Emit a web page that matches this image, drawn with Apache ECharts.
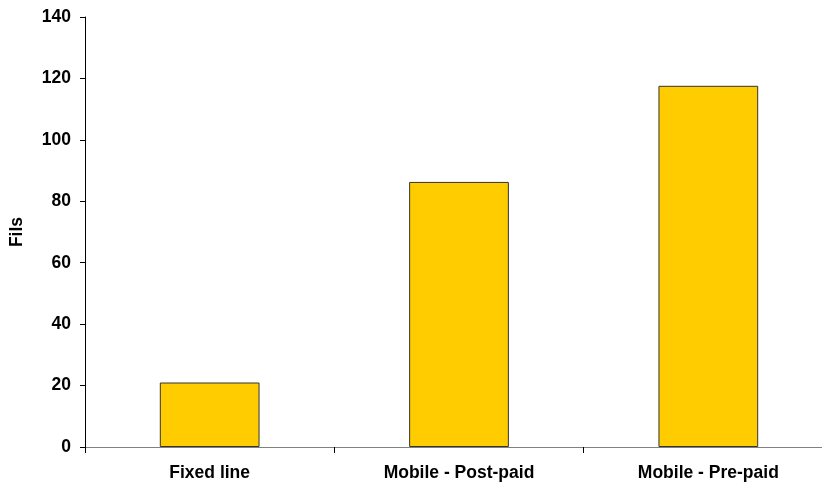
<!DOCTYPE html>
<html>
<head>
<meta charset="utf-8">
<script src="https://cdn.jsdelivr.net/npm/echarts@6/dist/echarts.min.js"></script>
<style>
  html, body { margin: 0; padding: 0; background: #ffffff; overflow: hidden; width: 822px; height: 483px; }
  /* the plot area runs a little past the right edge of the page */
  #chart { width: 834px; height: 483px; }
</style>
</head>
<body>
<div id="chart"></div>
<script>
// Average price per minute, in fils
const categories = ['Fixed line', 'Mobile - Post-paid', 'Mobile - Pre-paid'];
const priceFils = [21.0, 86.3, 117.6];
const yTicks = [0, 20, 40, 60, 80, 100, 120, 140];

const chart = echarts.init(document.getElementById('chart'), null, { renderer: 'canvas' });

const font = 'Arial, "Liberation Sans", Helvetica, sans-serif';

chart.setOption({
  animation: false,
  backgroundColor: '#ffffff',
  grid: { left: 84, right: 1, top: 17, bottom: 36, containLabel: false },
  xAxis: {
    type: 'category',
    data: categories,
    boundaryGap: true,
    axisLine: { show: true, lineStyle: { color: '#808080', width: 1 } },
    axisTick: { show: true, alignWithLabel: false, length: 6, inside: false, lineStyle: { color: '#000000' } },
    axisLabel: {
      color: '#000000', fontFamily: font, fontWeight: 'bold', fontSize: 17.5, margin: 17
    },
    splitLine: { show: false }
  },
  yAxis: {
    type: 'value',
    min: yTicks[0],
    max: yTicks[yTicks.length - 1],
    interval: 20,
    name: 'Fils',
    nameLocation: 'middle',
    nameRotate: 90,
    nameGap: 59,
    nameTextStyle: { color: '#000000', fontFamily: font, fontWeight: 'bold', fontSize: 17.5 },
    axisLine: { show: true, lineStyle: { color: '#000000', width: 1 } },
    axisTick: { show: true, length: 5, lineStyle: { color: '#000000' } },
    axisLabel: {
      color: '#000000', fontFamily: font, fontWeight: 'bold', fontSize: 17.5, margin: 14
    },
    splitLine: { show: false }
  },
  series: [{
    type: 'bar',
    data: priceFils,
    barWidth: '40%',
    itemStyle: { color: '#FFCC00', borderColor: '#333333', borderWidth: 1 },
    label: { show: false }
  }]
});
</script>
</body>
</html>
